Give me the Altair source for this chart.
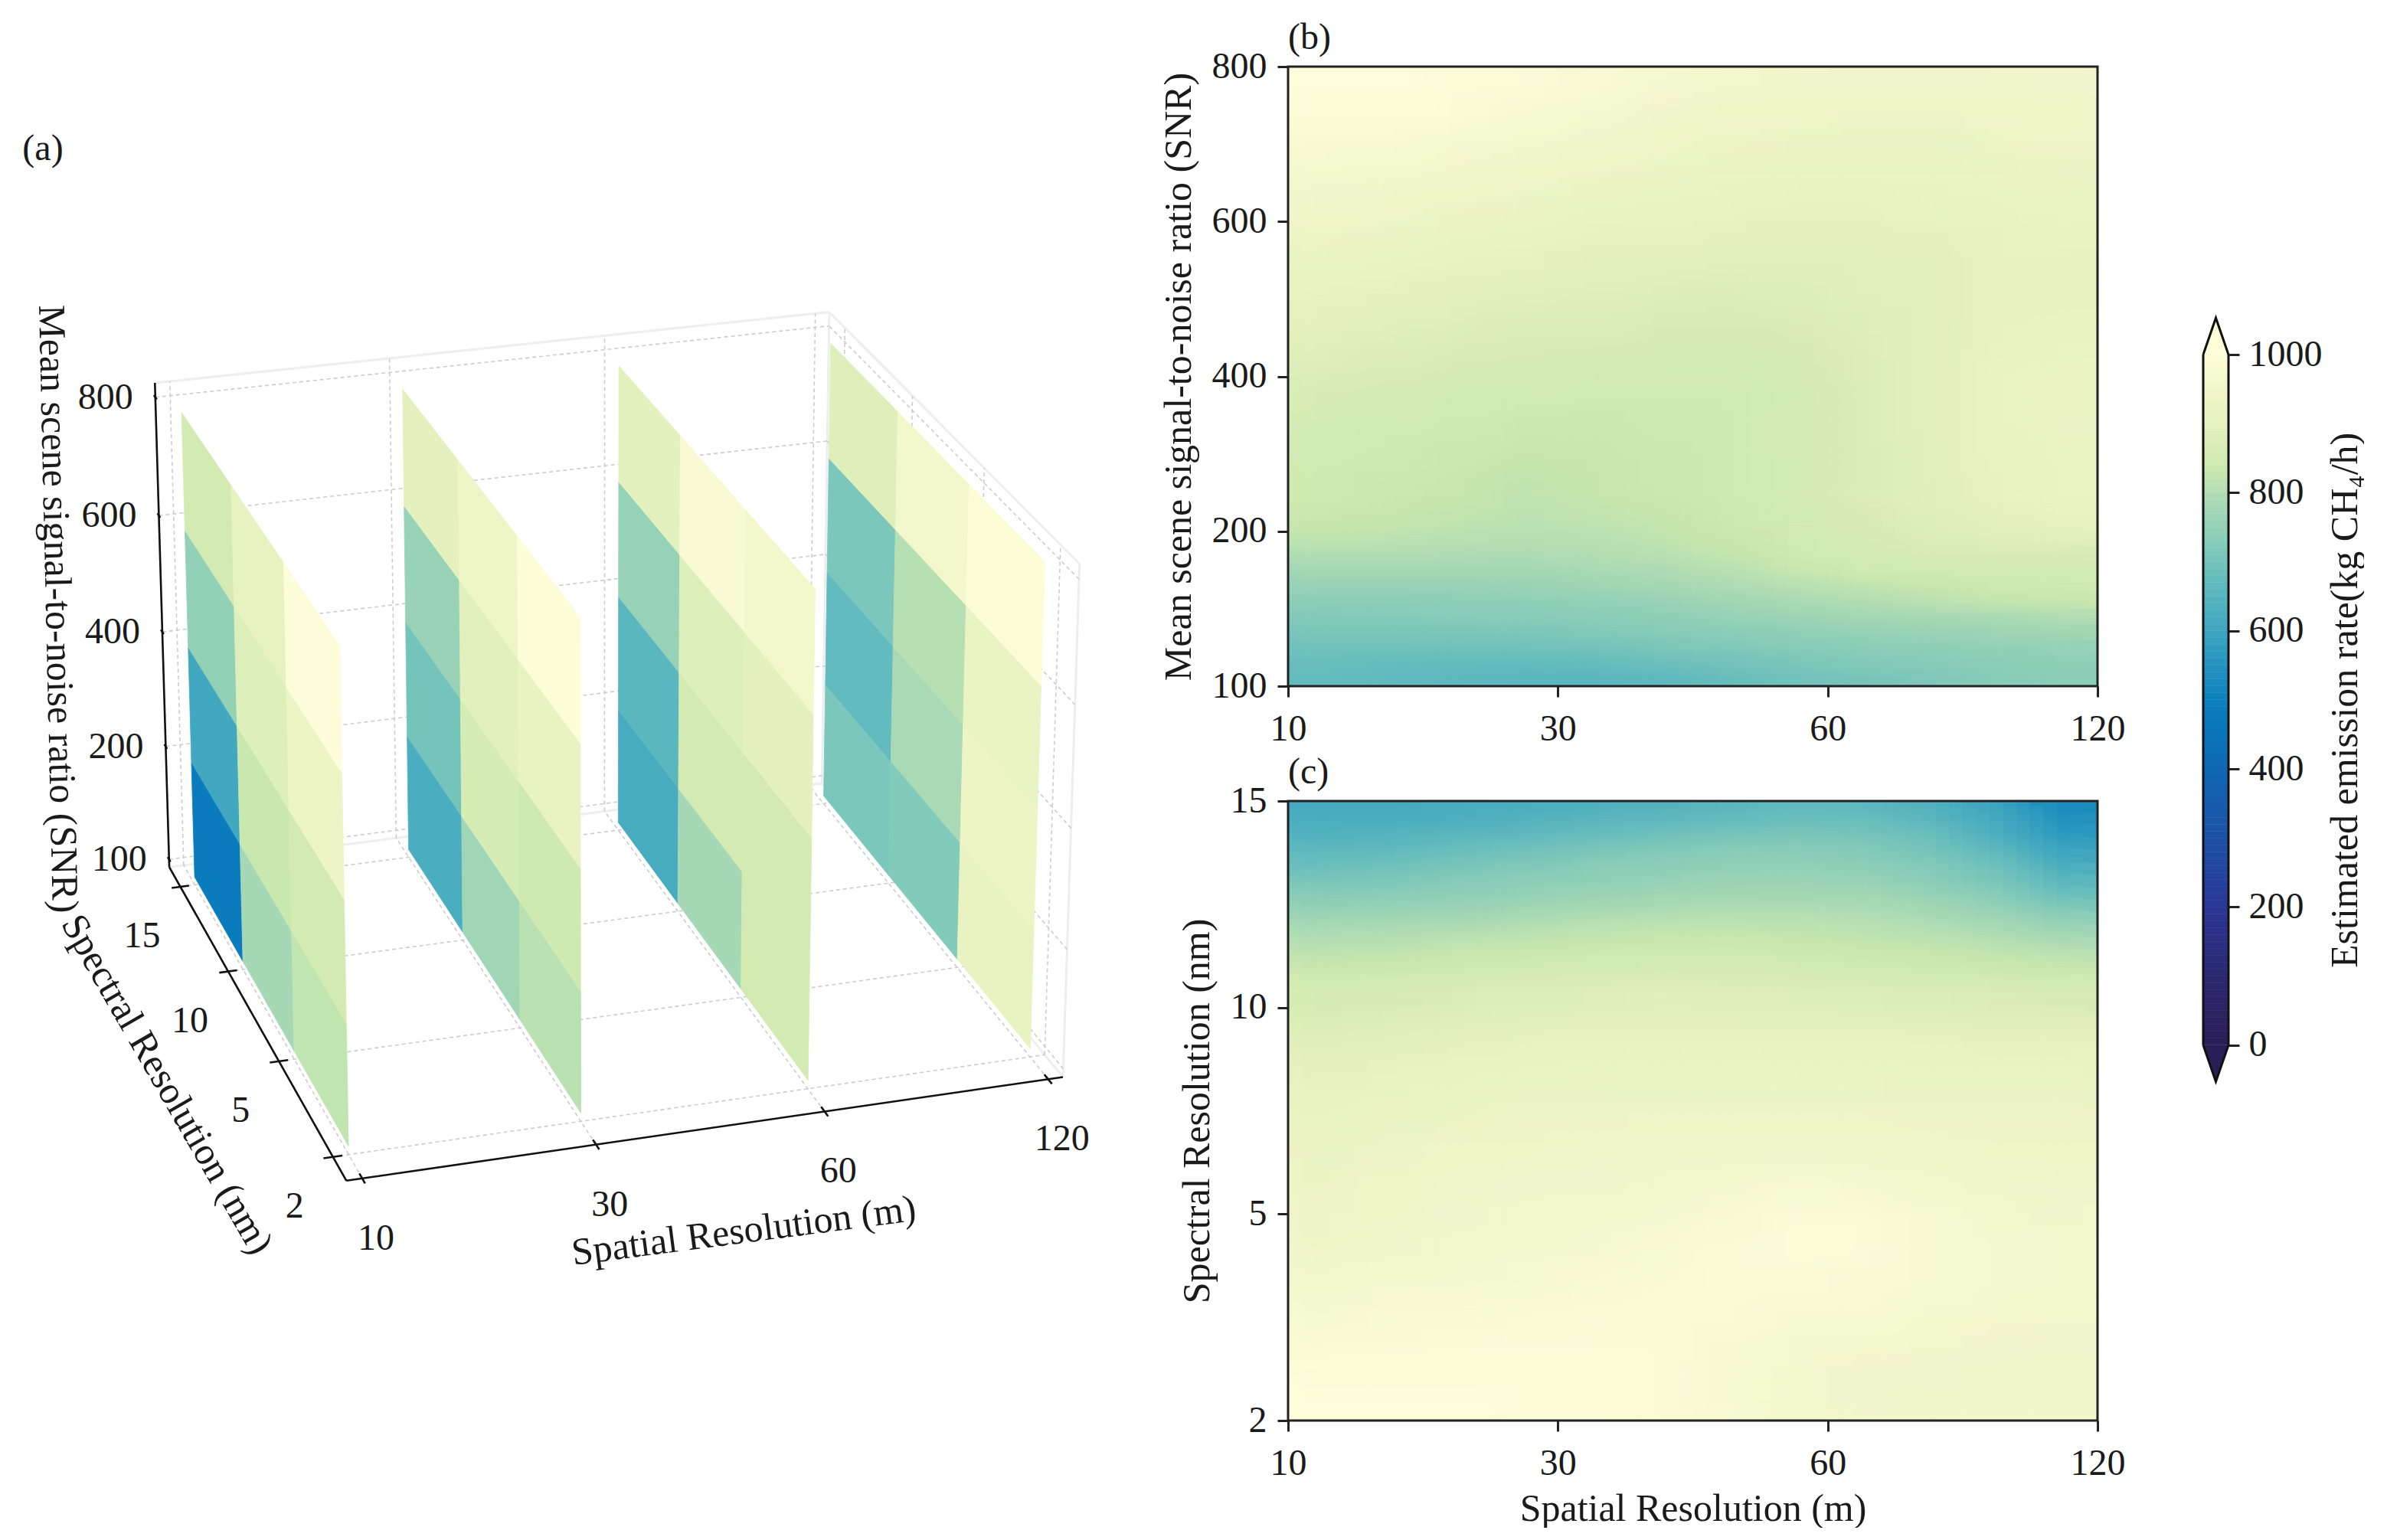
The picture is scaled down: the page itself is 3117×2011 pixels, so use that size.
import numpy as np
import pandas as pd
import altair as alt

FONT = "Liberation Serif"
INK = "#1a1a1a"
FS = 48
FT = 50

# colour ramp of the colour bar
CB_VALUES = [0, 100, 190, 300, 400, 480, 540, 600, 660, 720, 780, 830, 900, 950, 1000]
CB_COLORS = ["#2b1e58", "#2a2a72", "#2b3595", "#1c52a6", "#1069b4", "#0a7cbd", "#2391bf", "#41a8c0",
             "#5fb9bf", "#85cbba", "#a9d9b5", "#cde9b0", "#e6f2c0", "#f3f7cc", "#fffedb"]
color_scale = alt.Scale(domain=CB_VALUES, range=CB_COLORS, clamp=True)

SPATIAL = ["10", "30", "60", "120"]
SPECTRAL = ["2", "5", "10", "15"]
SNR = ["100", "200", "400", "600", "800"]

# panel (a): slices[spatial][spectral column back->front][SNR row top->bottom]
SLICES = [
    [[845, 745, 600, 475], [905, 875, 825, 775], [995, 925, 845, 815]],
    [[895, 755, 695, 620], [930, 885, 855, 765], [990, 910, 835, 805]],
    [[890, 750, 650, 615], [975, 875, 845, 775], [950, 895, 845, 845]],
    [[880, 705, 665, 705], [950, 800, 780, 715], [985, 915, 925, 910]],
]

# panel (b): rows top->bottom, columns left->right
GRID_B = [
    [998, 998, 995, 988, 978, 965, 955, 948, 945, 945, 948, 950],
    [990, 990, 985, 975, 962, 950, 942, 938, 935, 935, 938, 940],
    [975, 972, 965, 955, 945, 938, 930, 925, 925, 925, 930, 932],
    [958, 955, 948, 940, 932, 925, 918, 915, 915, 915, 920, 925],
    [945, 940, 932, 925, 918, 912, 908, 905, 905, 908, 912, 918],
    [930, 925, 918, 910, 905, 900, 897, 895, 895, 898, 905, 910],
    [918, 912, 905, 897, 892, 888, 885, 885, 887, 892, 900, 905],
    [905, 898, 890, 885, 880, 875, 872, 875, 882, 890, 900, 905],
    [893, 885, 877, 872, 868, 862, 860, 865, 878, 892, 905, 912],
    [880, 870, 862, 857, 852, 848, 848, 855, 873, 892, 908, 918],
    [862, 853, 847, 842, 840, 840, 840, 850, 870, 892, 910, 922],
    [850, 842, 838, 832, 832, 835, 838, 848, 868, 890, 910, 925],
    [842, 835, 832, 825, 826, 832, 838, 848, 868, 888, 908, 920],
    [835, 830, 825, 815, 822, 830, 838, 850, 868, 885, 903, 915],
    [830, 825, 820, 812, 818, 825, 835, 848, 865, 882, 898, 908],
    [825, 822, 815, 808, 812, 820, 832, 845, 862, 878, 890, 900],
    [815, 810, 805, 800, 805, 815, 828, 840, 855, 870, 880, 885],
    [795, 795, 792, 790, 795, 805, 820, 838, 850, 858, 860, 862],
    [775, 775, 775, 775, 782, 790, 805, 825, 840, 842, 848, 850],
    [755, 755, 755, 758, 765, 775, 788, 802, 815, 825, 835, 838],
    [735, 735, 738, 740, 745, 755, 770, 782, 795, 808, 820, 825],
    [718, 720, 722, 725, 730, 738, 750, 762, 772, 780, 785, 795],
    [705, 705, 705, 708, 715, 722, 730, 742, 752, 758, 765, 770],
    [690, 690, 688, 690, 695, 705, 712, 722, 730, 738, 745, 750],
    [675, 672, 670, 668, 672, 682, 695, 705, 715, 722, 732, 738],
    [670, 665, 660, 655, 652, 660, 675, 690, 700, 712, 725, 735],
]
EDGES_B = [i * 0.05 for i in range(14)] + [0.7 + i * 0.025 for i in range(13)]

# panel (c)
GRID_C = [
    [610, 612, 618, 625, 635, 645, 655, 665, 660, 640, 595, 525],
    [620, 622, 630, 638, 650, 660, 670, 680, 678, 655, 610, 545],
    [635, 640, 648, 658, 670, 682, 695, 700, 695, 675, 625, 560],
    [650, 655, 668, 680, 695, 705, 715, 720, 712, 690, 645, 585],
    [668, 675, 688, 700, 715, 725, 730, 735, 728, 705, 670, 605],
    [685, 692, 705, 718, 730, 738, 745, 748, 742, 720, 690, 630],
    [705, 710, 722, 732, 742, 750, 758, 760, 755, 735, 705, 655],
    [725, 730, 738, 748, 758, 765, 770, 772, 770, 752, 725, 680],
    [745, 748, 755, 765, 775, 782, 788, 790, 782, 770, 745, 710],
    [765, 770, 775, 785, 795, 802, 805, 805, 798, 785, 768, 740],
    [785, 790, 795, 805, 812, 818, 820, 815, 810, 800, 785, 765],
    [800, 805, 812, 820, 825, 830, 832, 828, 822, 815, 805, 790],
    [815, 820, 828, 832, 838, 842, 842, 838, 832, 828, 820, 810],
    [828, 832, 838, 845, 850, 855, 853, 848, 842, 838, 832, 825],
    [838, 842, 848, 855, 862, 865, 862, 858, 852, 848, 842, 838],
    [855, 860, 868, 875, 880, 885, 880, 878, 875, 870, 865, 862],
    [878, 885, 892, 898, 902, 905, 905, 902, 900, 897, 895, 895],
    [895, 902, 908, 912, 915, 918, 918, 915, 915, 912, 910, 910],
    [908, 915, 920, 925, 925, 928, 928, 928, 928, 925, 925, 925],
    [918, 925, 930, 935, 935, 938, 938, 938, 938, 935, 932, 932],
    [925, 932, 938, 942, 945, 945, 948, 950, 948, 945, 940, 938],
    [930, 938, 945, 950, 952, 955, 960, 972, 968, 955, 948, 945],
    [935, 942, 950, 955, 958, 962, 975, 988, 985, 970, 958, 952],
    [942, 948, 955, 960, 965, 972, 982, 992, 988, 972, 962, 958],
    [955, 960, 962, 968, 972, 978, 985, 985, 980, 970, 962, 958],
    [968, 972, 975, 978, 982, 985, 982, 975, 972, 965, 960, 958],
    [978, 982, 985, 988, 988, 985, 975, 965, 960, 955, 952, 950],
    [990, 992, 992, 992, 990, 985, 972, 958, 952, 950, 948, 948],
    [998, 998, 998, 995, 992, 985, 970, 955, 950, 948, 948, 948],
]
EDGES_C = [i * 0.02 for i in range(15)] + [0.30 + i * 0.05 for i in range(15)]

# layout
PAD_TOP = 18
T = 85
W, H = 1057, 809
# overlaid copies of each heat map, shifted by a fraction of a cell, soften the cell edges
SOFTEN = [(0, 0), (-0.4, -0.2), (-0.2, 0.4), (0.2, -0.4), (0.4, 0.2)]

# ---- camera of panel (a), calibrated on the four slices and the box corners
X0, X1, Y0, Y1, ZB, ZT = -0.067, 3.067, -0.24, 3.24, -0.07, 4.12
CAL = [
    ((0, 3, 4), (236, 535)), ((0, 3, 0), (253.6, 1142)), ((0, 0, 4), (443, 841)), ((0, 0, 0), (455, 1493.5)),
    ((1, 3, 4), (525.5, 504.5)), ((1, 3, 0), (533, 1106)), ((1, 0, 4), (758, 802)), ((1, 0, 0), (759, 1451)),
    ((2, 3, 4), (808, 475)), ((2, 3, 0), (807, 1070.5)), ((2, 0, 4), (1065, 764)), ((2, 0, 0), (1054.6, 1409)),
    ((3, 3, 4), (1085, 443)), ((3, 3, 0), (1076, 1037)), ((3, 0, 4), (1366, 731)), ((3, 0, 0), (1347, 1367)),
    ((X0, Y1, ZB), (222, 1134)), ((X0, Y0, ZB), (453, 1541)), ((X1, Y0, ZB), (1386, 1406)),
    ((X0, Y1, ZT), (203, 502)), ((X1, Y1, ZT), (1083, 409)), ((X1, Y0, ZT), (1408, 739)),
]
A, b_ = [], []
for (x, y, z), (u, v) in CAL:
    A.append([x, y, z, 1, 0, 0, 0, 0, -u * x, -u * y, -u * z]); b_.append(u)
    A.append([0, 0, 0, 0, x, y, z, 1, -v * x, -v * y, -v * z]); b_.append(v)
sol = np.linalg.lstsq(np.array(A, float), np.array(b_, float), rcond=None)[0]
P = np.append(sol, 1.0).reshape(3, 4)


def pr(x, y, z, dx=0.0, dy=0.0):
    q = P @ np.array([x, y, z, 1.0])
    return [float(q[0] / q[2] - 8 + dx), float(q[1] / q[2] - T + dy)]


def fc(features):
    return alt.InlineData(values={"type": "FeatureCollection", "features": features},
                          format=alt.DataFormat(property="features", type="json"))


def line_layer(segments, **style):
    feats = [{"type": "Feature", "properties": {},
              "geometry": {"type": "LineString", "coordinates": [pr(*a), pr(*b)]}} for a, b in segments]
    return alt.Chart(fc(feats)).mark_geoshape(filled=False, **style).project(type="identity", scale=1, translate=[0, 0])


def text_layer(rows, angle=0, size=FS):
    df = pd.DataFrame(rows, columns=["lon", "lat", "label"])
    return alt.Chart(df).mark_text(font=FONT, fontSize=size, color=INK, angle=angle, align="center",
                                   baseline="middle").encode(
        longitude="lon:Q", latitude="lat:Q", text="label:N").project(type="identity", scale=1, translate=[0, 0])


quads = []
for i, sl in enumerate(SLICES):
    for c, col in enumerate(sl):
        yb, yf = 3 - c, 2 - c
        for r, val in enumerate(col):
            zt, zb = 4 - r, 3 - r
            ring = [pr(i, yb, zt), pr(i, yf, zt), pr(i, yf, zb), pr(i, yb, zb), pr(i, yb, zt)]
            quads.append({"type": "Feature", "properties": {"v": val},
                          "geometry": {"type": "Polygon", "coordinates": [ring]}})

grid = []
for i in range(4):
    grid.append(((i, Y0, ZB), (i, Y1, ZB)))
    grid.append(((i, Y1, ZB), (i, Y1, ZT)))
for j in range(4):
    grid.append(((X0, j, ZB), (X1, j, ZB)))
    grid.append(((X1, j, ZB), (X1, j, ZT)))
for k in range(5):
    grid.append(((X0, Y1, k), (X1, Y1, k)))
    grid.append(((X1, Y0, k), (X1, Y1, k)))

edges = [((X0, Y1, ZT), (X1, Y1, ZT)), ((X1, Y1, ZT), (X1, Y0, ZT)), ((X0, Y1, ZB), (X1, Y1, ZB)),
         ((X1, Y1, ZB), (X1, Y1, ZT)), ((X1, Y1, ZB), (X1, Y0, ZB)), ((X1, Y0, ZB), (X1, Y0, ZT))]

axes3d = [((X0, Y0, ZB), (X1, Y0, ZB)), ((X0, Y0, ZB), (X0, Y1, ZB)), ((X0, Y1, ZB), (X0, Y1, ZT))]
for i in range(4):
    axes3d.append(((i, Y0 - 0.05, ZB), (i, Y0 + 0.05, ZB)))
for j in range(4):
    axes3d.append(((X0 - 0.04, j, ZB), (X0 + 0.04, j, ZB)))
for k in range(5):
    axes3d.append(((X0, Y1 - 0.03, k), (X0, Y1 + 0.03, k)))

slices_layer = alt.Chart(fc(quads)).mark_geoshape(strokeWidth=0.8).encode(
    color=alt.Color("properties.v:Q", scale=color_scale, legend=None),
    stroke=alt.Stroke("properties.v:Q", scale=color_scale, legend=None),
).project(type="identity", scale=1, translate=[0, 0])

x_labels = [(*pr(i, Y0, ZB, 18, 79), SPATIAL[i]) for i in range(4)]
y_labels = [(*pr(X0, j, ZB, -50, 65), SPECTRAL[j]) for j in range(4)]
z_labels = [(*pr(X0, Y1, k, -65, 1), SNR[k]) for k in range(5)]

panel_a = alt.layer(
    line_layer(edges, stroke="#eeeeee", strokeWidth=3),
    line_layer(grid, stroke="#cccccc", strokeWidth=1.6, strokeDash=[5, 4]),
    slices_layer,
    line_layer(axes3d, stroke="#111111", strokeWidth=2.6),
    text_layer(x_labels),
    text_layer(y_labels),
    text_layer(z_labels),
    text_layer([(*pr(1.5, Y0, ZB, 43, 135), "Spatial Resolution (m)")], angle=352.6, size=FT),
    text_layer([(*pr(X0, 1.5, ZB, -113, 90), "Spectral Resolution (nm)")], angle=60, size=FT),
    text_layer([(*pr(X0, Y1, 2, -137, -30), "Mean scene signal-to-noise ratio (SNR)")], angle=88.7, size=FT),
    text_layer([(56 - 8, 193 - T, "(a)")]),
).properties(width=1420, height=1900)


def heatmap(grid_vals, edges_f, ny, ylabels, ytitle, panel_title, xtitle):
    cw = 3 / 12
    xs = alt.Scale(domain=[0, 3], nice=False, zero=False)
    ys = alt.Scale(domain=[0, ny], nice=False, zero=False)
    xax = alt.Axis(values=list(range(4)), labelExpr="['10','30','60','120'][datum.value]", title=xtitle,
                   domain=False, grid=False, tickSize=14, tickWidth=3, tickColor="#222222", labelPadding=18,
                   labelFontSize=FS, titleFontSize=FT, titleFontWeight="normal", labelColor=INK, titleColor=INK,
                   labelFont=FONT, titleFont=FONT, titlePadding=10, labelFlush=False, labelOverlap=False)
    labs = ",".join("'%s'" % s for s in ylabels)
    yax = alt.Axis(values=list(range(ny + 1)), labelExpr="[%s][datum.value]" % labs, title=ytitle,
                   domain=False, grid=False, tickSize=14, tickWidth=3, tickColor="#222222", labelPadding=14,
                   labelFontSize=FS, titleFontSize=FT, titleFontWeight="normal", labelColor=INK, titleColor=INK,
                   labelFont=FONT, titleFont=FONT, titlePadding=18, labelFlush=False, labelOverlap=False)
    layers = []
    for n, (ox, oy) in enumerate(SOFTEN):
        rows = []
        for r, row in enumerate(grid_vals):
            top, bot = ny * (1 - edges_f[r]), ny * (1 - edges_f[r + 1])
            rh = top - bot
            for c, v in enumerate(row):
                rows.append({"x0": (c + ox) * cw, "x1": (c + 1 + ox) * cw,
                             "y0": bot + oy * rh, "y1": top + oy * rh, "v": v})
        df = pd.DataFrame(rows)
        if n == 0:
            layers.append(alt.Chart(df).mark_rect(strokeWidth=1, clip=True).encode(
                x=alt.X("x0:Q", scale=xs, axis=xax), x2="x1:Q",
                y=alt.Y("y0:Q", scale=ys, axis=yax), y2="y1:Q",
                color=alt.Color("v:Q", scale=color_scale, legend=None),
                stroke=alt.Stroke("v:Q", scale=color_scale, legend=None)))
        else:
            layers.append(alt.Chart(df).mark_rect(clip=True, opacity=1 / (n + 1)).encode(
                x=alt.X("x0:Q", scale=xs), x2="x1:Q",
                y=alt.Y("y0:Q", scale=ys), y2="y1:Q",
                color=alt.Color("v:Q", scale=color_scale, legend=None)))
    frame_df = pd.DataFrame([{"x0": 0, "x1": 3, "y0": 0, "y1": ny}])
    frame = alt.Chart(frame_df).mark_rect(filled=False, stroke="#222222", strokeWidth=3).encode(
        x=alt.X("x0:Q", scale=xs), x2="x1:Q", y=alt.Y("y0:Q", scale=ys), y2="y1:Q")
    return alt.layer(*layers, frame).properties(
        width=W, height=H,
        title=alt.TitleParams(panel_title, anchor="start", frame="group", fontSize=FS, fontWeight="normal",
                              font=FONT, color=INK, offset=-11))


panel_b = heatmap(GRID_B, EDGES_B, 4, SNR, "Mean scene signal-to-noise ratio (SNR)", "(b)", None)
panel_c = heatmap(GRID_C, EDGES_C, 3, SPECTRAL, "Spectral Resolution (nm)", "(c)", "Spatial Resolution (m)")

# colour bar
ramp = pd.DataFrame({"v0": list(range(0, 1000, 10))})
ramp["v1"] = ramp.v0 + 10
ramp["a"] = 0
ramp["b"] = 1
CB_H = 1420 - T
cb_y = alt.Scale(domain=[0, 1000], range=[1362.7 - T, 461 - T], nice=False, zero=False)
cb_x = alt.Scale(domain=[0, 1], nice=False, zero=False)
TIP = 53
cb_axis = alt.Axis(orient="right", values=[0, 200, 400, 600, 800, 1000], format="d", domain=False, grid=False,
                   tickSize=14, tickWidth=3, tickColor="#222222", labelPadding=12, labelFontSize=FS, labelColor=INK,
                   labelFont=FONT, title="Estimated emission rate(kg CH\u2084/h)", titleFontSize=FT,
                   titleFontWeight="normal", titleFont=FONT, titleColor=INK, titleAngle=270, titlePadding=55,
                   labelFlush=False, labelOverlap=False)
cb_ramp = alt.Chart(ramp).mark_rect(strokeWidth=0.6).encode(
    x=alt.X("a:Q", scale=cb_x, axis=None), x2="b:Q",
    y=alt.Y("v0:Q", scale=cb_y, axis=cb_axis), y2="v1:Q",
    color=alt.Color("v0:Q", scale=color_scale, legend=None),
    stroke=alt.Stroke("v0:Q", scale=color_scale, legend=None),
)


def tip(base, end, col):
    area = pd.DataFrame({"yy": [base, end], "l": [0, 0.5], "r": [1, 0.5]})
    line = pd.DataFrame({"xx": [0, 0.5, 1], "yy": [base, end, base]})
    return [
        alt.Chart(area).mark_area(orient="horizontal", color=col).encode(
            y=alt.Y("yy:Q", scale=cb_y), x=alt.X("l:Q", scale=cb_x), x2="r:Q"),
        alt.Chart(line).mark_line(color="#111111", strokeWidth=3).encode(
            x=alt.X("xx:Q", scale=cb_x), y=alt.Y("yy:Q", scale=cb_y)),
    ]


sides = pd.DataFrame({"xx": [0, 1], "lo": [0, 0], "hi": [1000, 1000]})
cb_sides = alt.Chart(sides).mark_rule(color="#111111", strokeWidth=3).encode(
    x=alt.X("xx:Q", scale=cb_x), y=alt.Y("lo:Q", scale=cb_y), y2="hi:Q")

colorbar = alt.layer(cb_ramp, *tip(1000, 1000 + TIP, CB_COLORS[-1]), *tip(0, -TIP, CB_COLORS[0]), cb_sides).properties(
    width=33, height=CB_H)

right = alt.hconcat(alt.vconcat(panel_b, panel_c, spacing=9), colorbar, spacing=96)
chart = alt.hconcat(panel_a, right, spacing=86).properties(
    padding={"left": 0, "top": PAD_TOP, "right": 0, "bottom": 0}
).configure(font=FONT).configure_view(stroke=None)

chart.save("out.html", embed_options={"renderer": "svg", "actions": False})
